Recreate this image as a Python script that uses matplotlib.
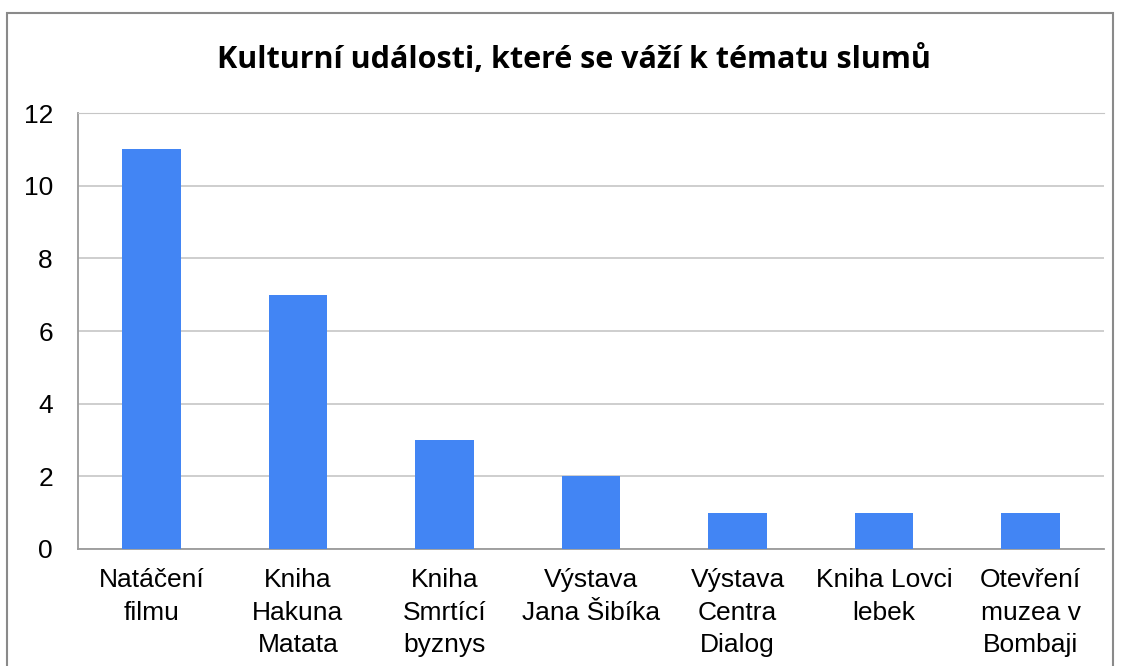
import matplotlib.pyplot as plt
from matplotlib.patches import Rectangle

categories = ["Natáčení\nfilmu", "Kniha\nHakuna\nMatata", "Kniha\nSmrtící\nbyznys",
              "Výstava\nJana Šibíka", "Výstava\nCentra\nDialog", "Kniha Lovci\nlebek",
              "Otevření\nmuzea v\nBombaji"]
values = [11, 7, 3, 2, 1, 1, 1]
yticks = [0, 2, 4, 6, 8, 10, 12]

fig = plt.figure(figsize=(11.21, 6.66), dpi=100)
ax = fig.add_axes([78/1121, 1-549/666, (1104-78)/1121, (549-113)/666])

x = range(len(values))
ax.bar(x, values, width=0.4, color="#4285F4", zorder=3)
ax.set_xlim(-0.5, len(values)-0.5)
ax.set_ylim(0, 12)
ax.set_yticks(yticks)
ax.set_xticks(list(x))
ax.set_xticklabels(categories, fontsize=19, family="Liberation Sans", linespacing=1.44)
ax.tick_params(axis="y", labelsize=19, length=0, pad=18)
ax.tick_params(axis="x", length=0, pad=14)
for lab in ax.get_yticklabels():
    lab.set_family("Liberation Sans")
ax.grid(axis="y", color="#c6c6c6", linewidth=1.2, zorder=0)
for s in ["top", "right"]:
    ax.spines[s].set_visible(False)
ax.spines["left"].set_color("#9a9a9a")
ax.spines["bottom"].set_color("#9a9a9a")
ax.spines["left"].set_linewidth(1.3)
ax.spines["bottom"].set_linewidth(1.3)
ax.spines["top"].set_visible(True)
ax.spines["top"].set_color("#c6c6c6")

fig.text(0.512, 1-60/666, "Kulturní události, které se váží k tématu slumů",
         ha="center", va="center", fontsize=22, fontweight="bold", family="Open Sans")

fig.patches.append(Rectangle((7/1121, -0.05), (1113-7)/1121, 1.05-13/666,
                             transform=fig.transFigure, fill=False,
                             edgecolor="#8a8a8a", linewidth=1.5))

fig.savefig("out.png", dpi=100)
